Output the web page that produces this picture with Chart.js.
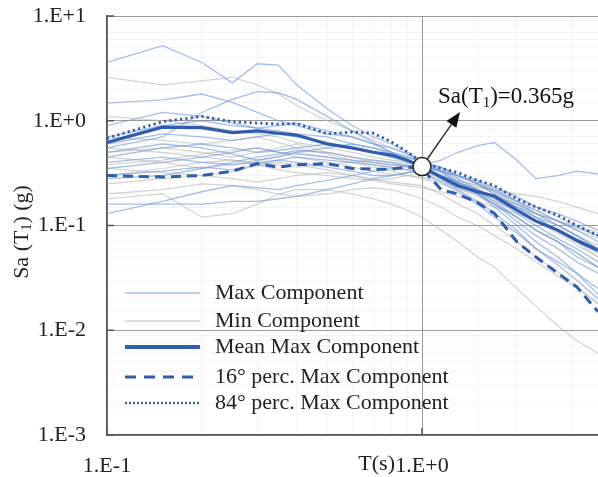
<!DOCTYPE html>
<html><head><meta charset="utf-8">
<script src="https://cdn.jsdelivr.net/npm/chart.js@4/dist/chart.umd.min.js"></script>
<style>html,body{margin:0;padding:0;background:#fff;overflow:hidden}#wrap{width:598px;height:477px;position:relative}</style>
</head><body><div id="wrap"><canvas id="c"></canvas></div>
<script>
// Periods T (s)
const periods = [0.1,0.15,0.2,0.25,0.3,0.35,0.4,0.5,0.6,0.7,0.8,0.9,1.0,1.15,1.3,1.5,1.7,2.0,2.3,2.7,3.1,3.62];

// Max component records (blue)
const maxComp1  = [3.6,5.2,3.6,2.3,3.5,3.4,2.2,1.3,0.9,0.7,0.6,0.5,0.42,0.33,0.26,0.2,0.16,0.11,0.08,0.06,0.045,0.035];
const maxComp2  = [1.47,1.58,1.8,1.5,1.2,1.0,0.9,0.75,0.7,0.6,0.55,0.48,0.4,0.33,0.28,0.22,0.18,0.13,0.1,0.075,0.06,0.045];
const maxComp3  = [0.55,0.7,1.2,1.6,1.9,1.85,1.6,1.1,0.8,0.62,0.5,0.45,0.4,0.36,0.3,0.25,0.2,0.15,0.12,0.09,0.07,0.055];
const maxComp4  = [0.16,0.16,0.16,0.17,0.17,0.18,0.19,0.22,0.25,0.28,0.3,0.32,0.33,0.3,0.26,0.22,0.19,0.15,0.12,0.1,0.08,0.06];
const maxComp5  = [0.13,0.17,0.21,0.24,0.23,0.22,0.24,0.27,0.3,0.33,0.35,0.37,0.38,0.42,0.5,0.58,0.62,0.42,0.28,0.3,0.33,0.31];
const maxComp6  = [0.45,0.55,0.6,0.55,0.5,0.52,0.55,0.6,0.55,0.5,0.45,0.42,0.38,0.32,0.26,0.21,0.17,0.12,0.09,0.07,0.05,0.04];
const maxComp7  = [0.7,0.9,1.0,0.9,0.85,0.9,0.95,0.8,0.7,0.6,0.5,0.42,0.36,0.3,0.25,0.2,0.16,0.12,0.09,0.07,0.055,0.04];
const maxComp8  = [0.35,0.4,0.45,0.5,0.55,0.5,0.48,0.45,0.42,0.4,0.38,0.37,0.35,0.28,0.22,0.17,0.13,0.09,0.06,0.045,0.035,0.025];
const maxComp9  = [0.5,0.6,0.55,0.48,0.42,0.45,0.5,0.55,0.6,0.55,0.48,0.42,0.37,0.33,0.3,0.27,0.23,0.19,0.15,0.13,0.11,0.09];
const maxComp10 = [0.28,0.3,0.35,0.4,0.45,0.48,0.52,0.5,0.45,0.42,0.4,0.38,0.36,0.3,0.25,0.2,0.15,0.1,0.07,0.05,0.035,0.022];
const maxComp11 = [0.6,0.75,0.7,0.65,0.7,0.75,0.7,0.62,0.55,0.5,0.45,0.4,0.37,0.33,0.3,0.25,0.21,0.17,0.14,0.11,0.09,0.07];
const maxComp12 = [0.4,0.45,0.4,0.38,0.4,0.42,0.4,0.36,0.33,0.3,0.3,0.32,0.33,0.3,0.26,0.22,0.19,0.16,0.13,0.11,0.095,0.08];
const maxComp13 = [0.9,1.2,1.1,0.95,0.85,0.8,0.75,0.7,0.6,0.55,0.5,0.45,0.4,0.35,0.3,0.26,0.22,0.17,0.13,0.1,0.08,0.06];
const maxComp14 = [0.3,0.33,0.36,0.34,0.38,0.42,0.45,0.42,0.4,0.38,0.36,0.34,0.32,0.26,0.21,0.16,0.12,0.085,0.06,0.042,0.03,0.02];

// Min component records (grey)
const minComp1  = [2.6,2.2,2.4,2.6,2.2,1.8,1.4,1.0,0.8,0.65,0.55,0.48,0.42,0.36,0.3,0.25,0.21,0.16,0.12,0.09,0.07,0.05];
const minComp2  = [0.18,0.2,0.12,0.13,0.16,0.2,0.22,0.22,0.2,0.18,0.16,0.14,0.12,0.09,0.07,0.05,0.04,0.025,0.017,0.011,0.008,0.006];
const minComp3  = [0.5,0.55,0.5,0.45,0.5,0.55,0.6,0.5,0.45,0.4,0.38,0.36,0.33,0.3,0.27,0.24,0.21,0.17,0.14,0.11,0.09,0.075];
const minComp4  = [0.35,0.32,0.3,0.33,0.37,0.4,0.38,0.34,0.3,0.28,0.26,0.25,0.24,0.2,0.16,0.13,0.1,0.07,0.05,0.036,0.026,0.018];
const minComp5  = [0.7,0.65,0.6,0.65,0.7,0.62,0.55,0.48,0.42,0.38,0.36,0.34,0.31,0.27,0.23,0.19,0.16,0.12,0.09,0.07,0.055,0.04];
const minComp6  = [0.25,0.28,0.3,0.28,0.26,0.28,0.3,0.32,0.3,0.27,0.25,0.24,0.23,0.21,0.19,0.17,0.15,0.13,0.11,0.09,0.075,0.06];
const minComp7  = [0.45,0.4,0.35,0.38,0.42,0.46,0.5,0.45,0.4,0.36,0.33,0.3,0.28,0.25,0.22,0.2,0.18,0.15,0.13,0.11,0.1,0.085];
const minComp8  = [0.2,0.22,0.25,0.24,0.22,0.2,0.19,0.2,0.22,0.23,0.22,0.2,0.18,0.15,0.12,0.1,0.08,0.06,0.045,0.033,0.025,0.018];
const minComp9  = [1.1,1.0,0.9,0.8,0.75,0.7,0.62,0.55,0.5,0.45,0.42,0.4,0.37,0.33,0.29,0.25,0.22,0.18,0.15,0.12,0.1,0.08];
const minComp10 = [0.3,0.35,0.4,0.42,0.38,0.34,0.32,0.3,0.28,0.27,0.28,0.3,0.32,0.3,0.27,0.24,0.2,0.16,0.13,0.1,0.08,0.065];
const minComp11 = [0.55,0.5,0.45,0.42,0.4,0.38,0.36,0.38,0.4,0.42,0.4,0.36,0.32,0.28,0.25,0.23,0.22,0.2,0.19,0.17,0.15,0.13];
const minComp12 = [0.38,0.42,0.48,0.52,0.55,0.5,0.45,0.4,0.36,0.33,0.31,0.3,0.29,0.26,0.23,0.2,0.17,0.14,0.11,0.085,0.065,0.05];

// Statistics of the max component
const meanMax   = [0.62,0.87,0.86,0.77,0.80,0.76,0.73,0.60,0.55,0.50,0.47,0.42,0.365,0.29,0.24,0.21,0.19,0.14,0.11,0.09,0.072,0.058];
const perc16Max = [0.30,0.29,0.30,0.33,0.39,0.36,0.38,0.39,0.35,0.345,0.345,0.36,0.35,0.22,0.20,0.165,0.13,0.07,0.05,0.035,0.026,0.015];
const perc84Max = [0.68,0.98,1.10,0.98,0.95,0.93,0.94,0.75,0.78,0.76,0.63,0.50,0.40,0.35,0.32,0.27,0.24,0.18,0.15,0.125,0.10,0.08];

// Target point
const targetT = [1.0];
const targetSa = [0.365];

// Axis labels
const yTickValues = [0.001,0.01,0.1,1,10];
const yTickLabels = ['1.E-3','1.E-2','1.E-1','1.E+0','1.E+1'];
const xTickValues = [0.1,1];
const xTickLabels = ['1.E-1','1.E+0'];
const legendLabels = ['Max Component','Min Component','Mean Max Component','16\u00B0 perc. Max Component','84\u00B0 perc. Max Component'];

const FONT = 'Liberation Serif, Times New Roman, serif';
const BLUE = 'rgba(110,152,218,0.62)';
const GREY = 'rgba(180,180,180,0.6)';
const DARK = '#2f5cad';

const toXY = arr => arr.map((v,i)=>({x:periods[i], y:v}));
const maxRecs = [maxComp1,maxComp2,maxComp3,maxComp4,maxComp5,maxComp6,maxComp7,maxComp8,maxComp9,maxComp10,maxComp11,maxComp12,maxComp13,maxComp14];
const minRecs = [minComp1,minComp2,minComp3,minComp4,minComp5,minComp6,minComp7,minComp8,minComp9,minComp10,minComp11,minComp12];

const datasets = [];
datasets.push({type:'scatter', label:'target', data: targetT.map((t,i)=>({x:t,y:targetSa[i]})), pointRadius:9, pointBackgroundColor:'#fff', pointBorderColor:'#222', pointBorderWidth:1.5, showLine:false, order:0});
datasets.push({label:legendLabels[2], data:toXY(meanMax), borderColor:DARK, borderWidth:3.2, order:1});
datasets.push({label:legendLabels[3], data:toXY(perc16Max), borderColor:DARK, borderWidth:3, borderDash:[10,6], order:2});
datasets.push({label:legendLabels[4], data:toXY(perc84Max), borderColor:DARK, borderWidth:2.8, borderDash:[2.2,3.2], order:2});
maxRecs.forEach(r=>datasets.push({label:legendLabels[0], data:toXY(r), borderColor:BLUE, borderWidth:1.3, order:3}));
minRecs.forEach(r=>datasets.push({label:legendLabels[1], data:toXY(r), borderColor:GREY, borderWidth:1.2, order:4}));

const isMajor = v => Math.abs(Math.log10(v) - Math.round(Math.log10(v))) < 1e-9;

const overlay = {
  id:'overlay',
  afterDatasetsDraw(chart){
    const ctx = chart.ctx, xs = chart.scales.x, ys = chart.scales.y;
    // arrow from target circle
    const cx = xs.getPixelForValue(targetT[0]), cy = ys.getPixelForValue(targetSa[0]);
    const ex = xs.getPixelForValue(1.32), ey = ys.getPixelForValue(1.21);
    const dx = ex-cx, dy = ey-cy, L = Math.hypot(dx,dy), ux = dx/L, uy = dy/L;
    const sx = cx+ux*9, sy = cy+uy*9;
    const hl = 15, hw = 6;
    const bx = ex-ux*hl, by = ey-uy*hl;
    ctx.save();
    ctx.strokeStyle = '#333'; ctx.lineWidth = 1.5;
    ctx.beginPath(); ctx.moveTo(sx,sy); ctx.lineTo(bx,by); ctx.stroke();
    ctx.fillStyle = '#111';
    ctx.beginPath(); ctx.moveTo(ex,ey); ctx.lineTo(bx-uy*hw, by+ux*hw); ctx.lineTo(bx+uy*hw, by-ux*hw); ctx.closePath(); ctx.fill();
    // annotation text
    const tx = xs.getPixelForValue(1.124), ty = ys.getPixelForValue(1.68);
    ctx.fillStyle = '#111'; ctx.textBaseline = 'middle'; ctx.textAlign = 'left';
    let x = tx;
    ctx.font = '23px ' + FONT; ctx.fillText('Sa(T', x, ty); x += ctx.measureText('Sa(T').width;
    ctx.font = '15px ' + FONT; ctx.fillText('1', x, ty+6); x += ctx.measureText('1').width;
    ctx.font = '23px ' + FONT; ctx.fillText(')=0.365g', x, ty);
    ctx.restore();
  },
  afterDraw(chart){
    const ctx = chart.ctx, xs = chart.scales.x, ys = chart.scales.y, ca = chart.chartArea;
    ctx.save();
    // inward tick marks
    ctx.strokeStyle = '#555'; ctx.lineWidth = 1.5;
    yTickValues.forEach(v=>{ const y = ys.getPixelForValue(v); ctx.beginPath(); ctx.moveTo(ca.left, y); ctx.lineTo(ca.left+7, y); ctx.stroke(); });
    xTickValues.forEach(v=>{ const x = xs.getPixelForValue(v); ctx.beginPath(); ctx.moveTo(x, ca.bottom); ctx.lineTo(x, ca.bottom-7); ctx.stroke(); });
    // legend
    const lx0 = 125, lx1 = 200, tx = 215;
    const rows = [293, 321, 347, 377, 403];
    const styles = [
      {c:BLUE, w:1.6, d:[]},
      {c:GREY, w:1.6, d:[]},
      {c:DARK, w:4, d:[]},
      {c:DARK, w:3, d:[11,8]},
      {c:DARK, w:2.4, d:[2,2]}
    ];
    ctx.font = '22px ' + FONT; ctx.fillStyle = '#222'; ctx.textBaseline = 'middle'; ctx.textAlign = 'left';
    rows.forEach((y,i)=>{
      const s = styles[i];
      ctx.strokeStyle = s.c; ctx.lineWidth = s.w; ctx.setLineDash(s.d);
      ctx.beginPath(); ctx.moveTo(lx0, y); ctx.lineTo(lx1, y); ctx.stroke();
      ctx.setLineDash([]);
      ctx.fillText(legendLabels[i], tx, y);
    });
    // x axis title next to 1.E+0 label
    ctx.textAlign = 'right';
    ctx.fillText('T(s)', xs.getPixelForValue(1) - 27, 464);
    // y axis title (rotated, with subscript)
    ctx.translate(22, 232); ctx.rotate(-Math.PI/2);
    const parts = [['Sa (T',22,0],['1',14,5],[') (g)',22,0]];
    let total = 0;
    parts.forEach(p=>{ ctx.font = p[1]+'px '+FONT; total += ctx.measureText(p[0]).width; });
    let x = -total/2; ctx.textAlign = 'left';
    parts.forEach(p=>{ ctx.font = p[1]+'px '+FONT; ctx.fillText(p[0], x, p[2]); x += ctx.measureText(p[0]).width; });
    ctx.restore();
  }
};

new Chart(document.getElementById('c'), {
  type:'line',
  data:{datasets},
  options:{
    responsive:true, maintainAspectRatio:false, animation:false, devicePixelRatio:1,
    parsing:true,
    elements:{point:{radius:0}, line:{tension:0}},
    layout:{autoPadding:false, padding:{top:16,right:0,left:0,bottom:0}},
    plugins:{legend:{display:false}, tooltip:{enabled:false}},
    scales:{
      x:{type:'logarithmic', min:0.1, max:3.62,
         afterFit(s){ s.height = 42; s.paddingRight = 0; s.paddingLeft = 0; },
         grid:{color:c=>isMajor(c.tick.value)?'#9a9a9a':'rgba(0,0,0,0.04)', lineWidth:1, drawTicks:false},
         border:{display:true, color:'#555', width:1.6},
         ticks:{autoSkip:false, maxRotation:0, minRotation:0, padding:18, color:'#222', font:{family:FONT,size:22},
           callback:(v)=>{ const i = xTickValues.findIndex(t=>Math.abs(t-v)<1e-9); return i>=0?xTickLabels[i]:''; }}
      },
      y:{type:'logarithmic', min:0.001, max:10,
         afterFit(s){ s.width = 107; s.paddingTop = 0; s.paddingBottom = 0; },
         grid:{color:c=>isMajor(c.tick.value)?'#9a9a9a':'rgba(0,0,0,0.04)', lineWidth:1, drawTicks:false},
         border:{display:true, color:'#555', width:1.6},
         ticks:{autoSkip:false, padding:21, color:'#222', font:{family:FONT,size:22},
           callback:(v)=>{ const i = yTickValues.findIndex(t=>Math.abs(t-v)/t<1e-9); return i>=0?yTickLabels[i]:''; }}
      }
    }
  },
  plugins:[overlay]
});
</script></body></html>
